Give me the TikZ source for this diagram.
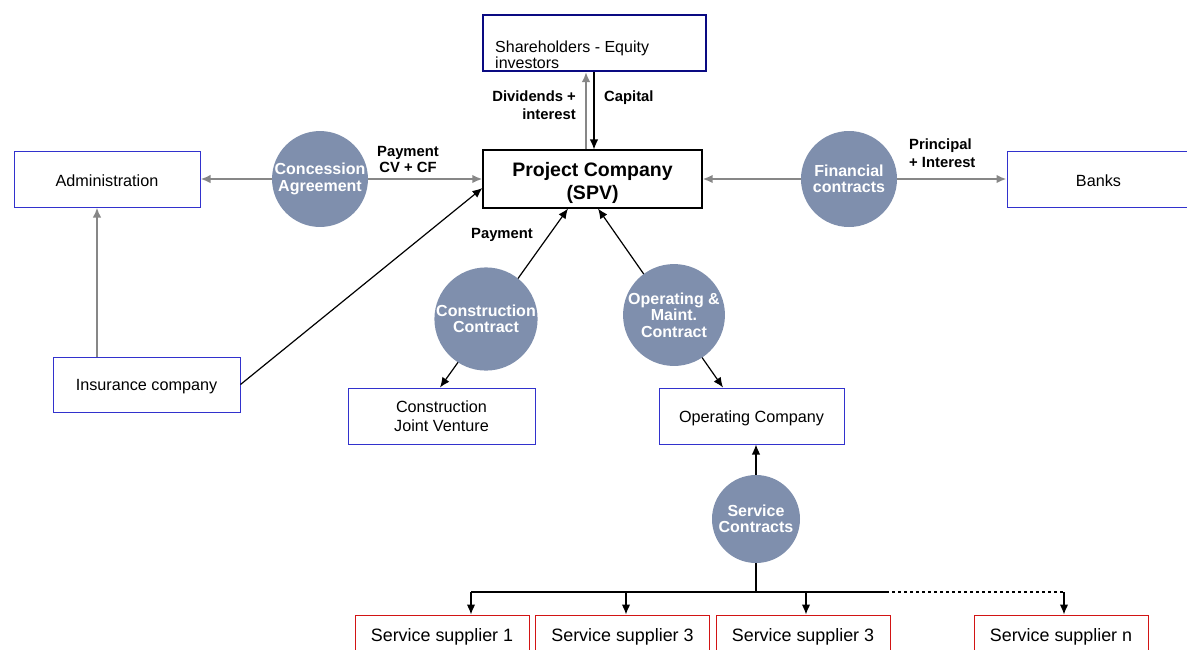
\documentclass[tikz,border=0pt]{standalone}
\usepackage{fontspec}
\setmainfont{Liberation Sans}
\usetikzlibrary{arrows.meta,calc}
\definecolor{circfill}{RGB}{127,143,173}
\definecolor{boxblue}{RGB}{50,50,205}
\definecolor{navy}{RGB}{10,10,130}
\definecolor{supred}{RGB}{210,20,20}
\definecolor{lgray}{RGB}{135,135,135}
\newcommand{\dn}[2]{\raisebox{-#1}[\height][\depth]{#2}}
\tikzset{
  box/.style={draw=boxblue, line width=1pt, fill=white, inner sep=0pt, align=center,
    font=\fontsize{16.2}{19}\selectfont},
  circ/.style={circle, fill=circfill, inner sep=0pt, align=center, text=white,
    font=\bfseries\fontsize{16}{16.5}\selectfont},
  lbl/.style={inner sep=0pt, font=\bfseries\fontsize{14.8}{18}\selectfont},
  tip/.style={-{Latex[length=10pt,width=8.5pt]}},
  tips/.style={{Latex[length=10pt,width=8.5pt]}-{Latex[length=10pt,width=8.5pt]}},
  blk/.style={line width=1.2pt, black},
  gry/.style={line width=2pt, lgray},
}
\begin{document}
\begin{tikzpicture}[x=1pt,y=-1pt]
\useasboundingbox (0,0) rectangle (1187,649);
\clip (0,0) rectangle (1187,649);
% boxes
\node[box, minimum width=186pt, minimum height=56pt] (adm) at (107,179) {\dn{1.5pt}{Administration}};
\node[box, draw=black, line width=1.1pt, minimum width=219pt, minimum height=58pt,
      font=\bfseries\fontsize{19.5}{23}\selectfont] (spv) at (592.5,179)
      {\dn{4pt}{\begin{tabular}{@{}c@{}}Project Company\\(SPV)\end{tabular}}};
\node[box, draw=navy, line width=2pt, minimum width=223pt, minimum height=56pt] (sh) at (594.5,43) {};
\node[anchor=west, inner sep=0pt, align=left, font=\fontsize{16}{16}\selectfont] (shtext) at (495,55) {Shareholders - Equity\\investors};
\node[box, minimum width=183pt, minimum height=56pt] (bank) at (1098.5,179) {\dn{1.5pt}{Banks}};
\node[box, minimum width=187pt, minimum height=55pt] (ins) at (146.5,384.5) {\dn{2pt}{Insurance company}};
\node[box, minimum width=187pt, minimum height=56pt] (jv) at (441.5,416)
      {\dn{2pt}{\begin{tabular}{@{}c@{}}Construction\\Joint Venture\end{tabular}}};
\node[box, minimum width=185pt, minimum height=56pt] (opco) at (751.5,416) {\dn{2pt}{Operating Company}};
\tikzset{sup/.style={box, draw=supred, minimum width=174pt, minimum height=44pt, font=\fontsize{17.9}{19}\selectfont}}
\node[sup] (s1) at (442,637) {\raisebox{2pt}{Service supplier 1}};
\node[sup] (s2) at (622.5,637) {\raisebox{2pt}{Service supplier 3}};
\node[sup] (s3) at (803,637) {\raisebox{2pt}{Service supplier 3}};
\node[sup] (sn) at (1061,637) {\raisebox{2pt}{Service supplier n}};
% connectors
\draw[gry, tips] (adm.east) -- (spv.west);
\draw[gry, tips] (spv.east) -- (bank.west);
\coordinate (insup) at (97,357);
\draw[gry, tip] (insup) -- (insup |- adm.south);
\draw[blk, tip] (ins.east) -- ($(spv.west)+(0,9)$);
\draw[gry, tip] ($(spv.north)+(-6.5,0)$) coordinate (dv) -- (dv |- sh.south);
\draw[blk, tip] ($(sh.south)+(-0.5,0)$) coordinate (cp) -- (cp |- spv.north);
\draw[blk, tips] ($(spv.south)+(-24.5,0)$) -- ($(jv.north)+(-1.5,0)$);
\draw[blk, tips] ($(spv.south)+(5.5,0)$) -- ($(opco.north)+(-28.5,0)$);
% circles
\node[circ, minimum size=95pt] (conc) at (320,179) {Concession\\Agreement};
\node[circ, minimum size=96pt] (fin) at (849,179) {Financial\\contracts};
\node[circ, minimum size=94pt] (cc) at (486,319) {Construction\\Contract};
\node[circ, minimum size=95pt] (om) at (674,315) {Operating \&\\Maint.\\Contract};
\node[circ, minimum size=88pt] (sc) at (756,519) {Service\\Contracts};
% service tree
\draw[blk, tip] (sc.north) -- (sc.north |- opco.south);
\coordinate (bus) at (756,592);
\coordinate (bl) at (471,592);
\coordinate (b2) at (626,592);
\coordinate (b3) at (806,592);
\coordinate (br) at (886,592);
\coordinate (bn) at (1064,592);
\draw[blk] (sc.south) -- (bus);
\draw[blk] (bl) -- (br);
\draw[blk, dashed] (br) -- (bn);
\draw[blk, tip] (bl) -- (bl |- s1.north);
\draw[blk, tip] (b2) -- (b2 |- s2.north);
\draw[blk, tip] (b3) -- (b3 |- s3.north);
\draw[blk, tip] (bn) -- (bn |- sn.north);
% labels
\node[lbl, anchor=east, align=right] (ldiv) at (576,105) {Dividends +\\interest};
\node[lbl, anchor=west] (lcap) at (604,98) {Capital};
\node[lbl, align=center, font=\bfseries\fontsize{14.8}{16}\selectfont] (lpay1) at (408,159) {Payment\\CV + CF};
\node[lbl, anchor=west, align=left] (lpri) at (909,153) {Principal\\+ Interest};
\node[lbl] (lpay2) at (502,235) {Payment};
\end{tikzpicture}
\end{document}
